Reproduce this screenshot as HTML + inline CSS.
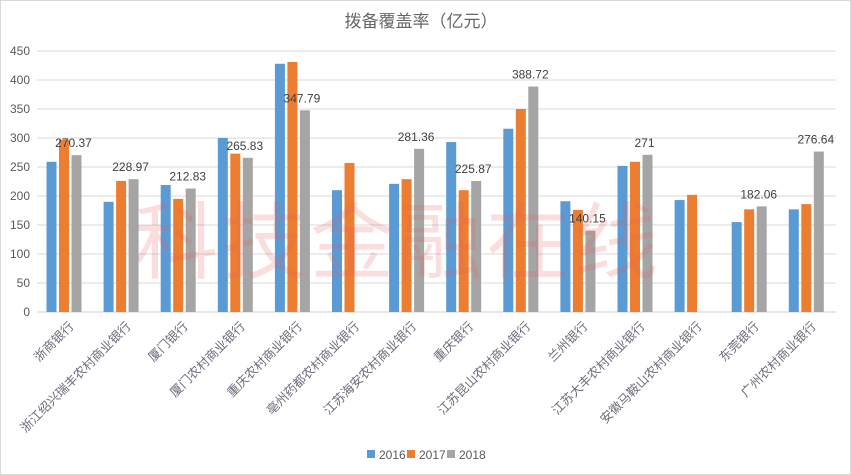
<!DOCTYPE html>
<html><head><meta charset="utf-8"><style>
html,body{margin:0;padding:0;background:#fff;}
svg{display:block;font-family:"Liberation Sans","Noto Sans CJK SC",sans-serif;}
</style></head><body>
<svg width="851" height="475" viewBox="0 0 851 475" xmlns="http://www.w3.org/2000/svg">
<rect x="0.5" y="0.5" width="850" height="474" fill="#fff" stroke="#d9d9d9"/>
<text x="421" y="27" text-anchor="middle" font-size="17" fill="#666">拨备覆盖率（亿元）</text>
<g id="grid" stroke="#d9d9d9" stroke-width="1"></g>
<g id="yl" font-size="12" fill="#595959" text-anchor="end"></g>
<g id="bars"></g>
<g id="vl" font-size="12" fill="#404040" text-anchor="middle"></g>
<g id="xl" font-size="12.5" fill="#6b6b7b" text-anchor="end"></g>
<text x="398" y="272" text-anchor="middle" font-size="84" fill="rgba(232,90,90,0.2)" letter-spacing="4">科技金融在线</text>
<g font-size="12" fill="#595959">
<rect x="367" y="450" width="8" height="8" fill="#5b9bd5"/><text x="379" y="459">2016</text>
<rect x="407" y="450" width="8" height="8" fill="#ed7d31"/><text x="419" y="459">2017</text>
<rect x="447" y="450" width="8" height="8" fill="#a5a5a5"/><text x="459" y="459">2018</text>
</g>
<script>
var ns="http://www.w3.org/2000/svg";
function el(p,t,a,txt){var e=document.createElementNS(ns,t);for(var k in a)e.setAttribute(k,a[k]);if(txt!==undefined)e.textContent=txt;document.getElementById(p).appendChild(e);}
var y0=312,k=261/450,x0=37,cw=57.1;
for(var v=0;v<=450;v+=50){var y=y0-v*k;el("grid","line",{x1:x0,x2:836,y1:y,y2:y,stroke:v==0?"#d0d0d0":"#d9d9d9"});el("yl","text",{x:30,y:y+4},v);}
var names=["浙商银行","浙江绍兴瑞丰农村商业银行","厦门银行","厦门农村商业银行","重庆农村商业银行","亳州药都农村商业银行","江苏海安农村商业银行","重庆银行","江苏昆山农村商业银行","兰州银行","江苏大丰农村商业银行","安徽马鞍山农村商业银行","东莞银行","广州农村商业银行"];
var d=[[259,297,270.37],[190,226,228.97],[219,195,212.83],[300,273,265.83],[428,431,347.79],[210,257,null],[221,229,281.36],[293,210,225.87],[316,350,388.72],[191,176,140.15],[252,259,271],[193,202,null],[155,177,182.06],[177,186,276.64]];
var cols=["#5b9bd5","#ed7d31","#a5a5a5"];
for(var i=0;i<14;i++){var s=x0+i*cw;
for(var j=0;j<3;j++){var v=d[i][j];if(v==null)continue;var x=s+9.5+j*12.5;el("bars","rect",{x:x,y:y0-v*k,width:10,height:v*k,fill:cols[j]});}
if(d[i][2]!=null){var gx=s+9.5+25+5;el("vl","text",{x:gx-3,y:y0-d[i][2]*k-8},String(d[i][2]));}
var cx=s+cw/2+9,cy=327;el("xl","text",{x:cx,y:cy,transform:"rotate(-45 "+cx+" "+cy+")"},names[i]);}
</script>
</svg>
</body></html>
